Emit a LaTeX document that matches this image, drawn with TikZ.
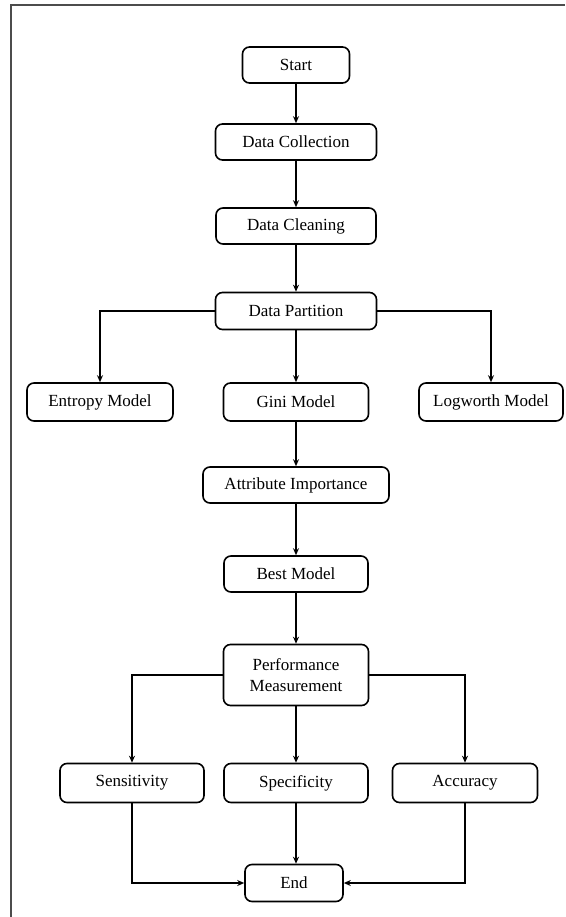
\documentclass[tikz,border=0pt]{standalone}
\usepackage{fontspec}
\setmainfont{Liberation Serif}
\usetikzlibrary{arrows.meta}

\begin{document}
\begin{tikzpicture}[x=1pt,y=-1pt,line width=1.6pt,>={Stealth[length=7pt,width=6pt]},
  box/.style={draw,rounded corners=7pt,inner sep=0pt,align=center,
    minimum height=36pt,font=\fontsize{17}{21}\selectfont}]
\useasboundingbox (0,0) rectangle (565,917);
\draw[black!70,line width=2.2pt] (11,917) -- (11,5) -- (565,5);

\node[box,minimum width=107pt] (start) at (296,65) {Start};
\node[box,minimum width=161pt] (collect) at (296,142) {Data Collection};
\node[box,minimum width=160pt] (clean) at (296,226) {Data Cleaning};
\node[box,minimum width=161pt,minimum height=37pt] (part) at (296,311) {Data Partition};
\node[box,minimum width=146pt,minimum height=38pt] (entropy) at (100,402) {Entropy Model};
\node[box,minimum width=145pt,minimum height=38pt] (gini) at (296,402) {Gini Model};
\node[box,minimum width=144pt,minimum height=38pt] (logworth) at (491,402) {Logworth Model};
\node[box,minimum width=186pt] (attr) at (296,485) {Attribute Importance};
\node[box,minimum width=144pt] (best) at (296,574) {Best Model};
\node[box,minimum width=145pt,minimum height=61pt] (perf) at (296,675) {Performance\\Measurement};
\node[box,minimum width=144pt,minimum height=39pt] (sens) at (132,783) {Sensitivity};
\node[box,minimum width=144pt,minimum height=39pt] (spec) at (296,783) {Specificity};
\node[box,minimum width=145pt,minimum height=39pt] (acc) at (465,783) {Accuracy};
\node[box,minimum width=98pt,minimum height=37pt] (end) at (294,883) {End};

\draw[->] (start) -- (collect);
\draw[->] (collect) -- (clean);
\draw[->] (clean) -- (part);
\draw[->] (part.west) -| (entropy.north);
\draw[->] (part) -- (gini);
\draw[->] (part.east) -| (logworth.north);
\draw[->] (gini) -- (attr);
\draw[->] (attr) -- (best);
\draw[->] (best) -- (perf);
\draw[->] (perf.west) -| (sens.north);
\draw[->] (perf) -- (spec);
\draw[->] (perf.east) -| (acc.north);
\draw[->] (sens.south) |- (end.west);
\draw[->] (spec.south) -- (spec.south |- end.north);
\draw[->] (acc.south) |- (end.east);
\end{tikzpicture}
\end{document}
